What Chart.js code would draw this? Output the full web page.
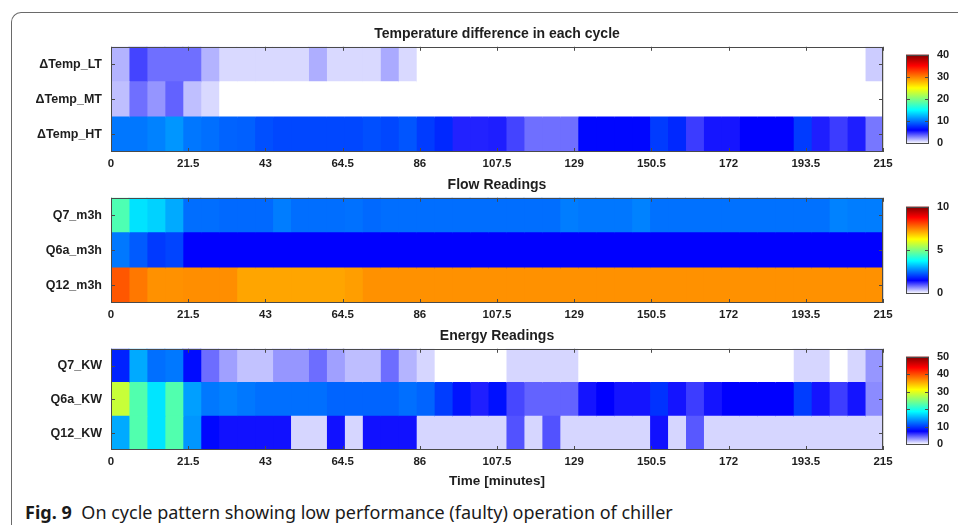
<!DOCTYPE html>
<html>
<head>
<meta charset="utf-8">
<script src="https://cdn.jsdelivr.net/npm/chart.js@4.4.0/dist/chart.umd.min.js"></script>
<style>
  html, body { margin: 0; padding: 0; background: #fff; }
  #page { position: relative; width: 958px; height: 525px; overflow: hidden; }
  .frame { position: absolute; left: 11px; top: 12px; width: 990px; height: 560px;
           border-top: 1.5px solid #6a6a6a; border-left: 1.5px solid #6a6a6a; border-top-left-radius: 10px; }
  .box { position: absolute; }
  .caption { position: absolute; left: 25px; top: 500px; font-family: "Noto Sans", sans-serif;
             font-size: 18px; line-height: 24px; color: #1a1a1a; white-space: nowrap; }
  .caption b { margin-right: 5px; }
</style>
</head>
<body>
<div id="page">
  <div class="frame"></div>
  <div class="box" style="left:0;top:26px;"><canvas id="hmTemp" width="958" height="148"></canvas></div>
  <div class="box" style="left:0;top:177px;"><canvas id="hmFlow" width="958" height="148"></canvas></div>
  <div class="box" style="left:0;top:328px;"><canvas id="hmEnergy" width="958" height="163"></canvas></div>
  <div class="box" style="left:906px;top:40px;"><canvas id="cbTemp" width="52" height="118"></canvas></div>
  <div class="box" style="left:906px;top:192px;"><canvas id="cbFlow" width="52" height="116"></canvas></div>
  <div class="box" style="left:906px;top:342px;"><canvas id="cbEnergy" width="52" height="117"></canvas></div>
  <div class="caption"><b>Fig. 9</b> On cycle pattern showing low performance (faulty) operation of chiller</div>
</div>

<script>
// ── Data ─────────────────────────────────────────────────────
// one cell every 5 minutes, 43 cells from 0 to 215
var BIN_MIN = 5;
var T_MAX = 215;
var xTicks = [0, 21.5, 43, 64.5, 86, 107.5, 129, 150.5, 172, 193.5, 215];

var tempLabels = ['\u0394Temp_LT', '\u0394Temp_MT', '\u0394Temp_HT'];
var tempLT = [1.8, 4.4, 3.4, 3.4, 3.4, 1.8, 0.9, 0.9, 0.9, 0.9, 0.9, 1.9, 0.9, 0.9, 0.9, 2.0, 0.9, 0, 0, 0,
              0, 0, 0, 0, 0, 0, 0, 0, 0, 0, 0, 0, 0, 0, 0, 0, 0, 0, 0, 0,
              0, 0, 1.2];
var tempMT = [1.5, 3.4, 2.5, 3.7, 1.5, 0.9, 0, 0, 0, 0, 0, 0, 0, 0, 0, 0, 0, 0, 0, 0,
              0, 0, 0, 0, 0, 0, 0, 0, 0, 0, 0, 0, 0, 0, 0, 0, 0, 0, 0, 0,
              0, 0, 0];
var tempHT = [10.2, 10.2, 10.6, 11.3, 10.2, 9.9, 9.5, 9.4, 8.8, 8.5, 8.5, 8.5, 8.5, 8.5, 8.8, 8.5, 9.0, 8.1, 7.4, 5.2,
              5.2, 5.3, 4.4, 3.4, 3.4, 3.4, 6.2, 6.2, 6.2, 6.2, 8.1, 7.4, 4.6, 5.5, 5.5, 6.0, 6.0, 6.0, 8.1, 5.3,
              4.6, 5.3, 3.2];

var flowLabels = ['Q7_m3h', 'Q6a_m3h', 'Q12_m3h'];
var flowQ7  = [4.5, 3.5, 3.35, 3.0, 2.47, 2.47, 2.43, 2.43, 2.43, 2.6, 2.47, 2.47, 2.47, 2.5, 2.43, 2.47, 2.47, 2.47, 2.47, 2.47,
               2.47, 2.47, 2.47, 2.47, 2.47, 2.6, 2.55, 2.55, 2.55, 2.65, 2.5, 2.5, 2.5, 2.5, 2.5, 2.5, 2.5, 2.5, 2.5, 2.5,
               2.65, 2.6, 2.6];
var flowQ6a = [2.56, 2.3, 2.0, 2.1, 1.5, 1.5, 1.5, 1.5, 1.5, 1.5, 1.5, 1.5, 1.5, 1.5, 1.5, 1.5, 1.5, 1.5, 1.5, 1.5,
               1.5, 1.5, 1.5, 1.5, 1.5, 1.5, 1.5, 1.5, 1.5, 1.5, 1.5, 1.5, 1.5, 1.5, 1.5, 1.5, 1.5, 1.5, 1.5, 1.5,
               1.5, 1.5, 1.5];
var flowQ12 = [7.9, 7.57, 7.33, 7.33, 7.36, 7.36, 7.36, 7.13, 7.13, 7.13, 7.13, 7.13, 7.13, 7.2, 7.33, 7.33, 7.33, 7.33, 7.33, 7.33,
               7.33, 7.33, 7.33, 7.33, 7.33, 7.33, 7.33, 7.33, 7.33, 7.33, 7.33, 7.33, 7.33, 7.33, 7.33, 7.33, 7.33, 7.33, 7.33, 7.33,
               7.33, 7.33, 7.33];

var energyLabels = ['Q7_KW', 'Q6a_KW', 'Q12_KW'];
var energyQ7  = [9, 15, 12.4, 12.8, 8, 4.3, 2.8, 1.8, 1.8, 3.1, 3.1, 4.3, 2.8, 1.9, 1.9, 4.3, 2.2, 1.2, 0, 0,
                 0, 0, 1.2, 1.2, 1.2, 1.2, 0, 0, 0, 0, 0, 0, 0, 0, 0, 0, 0, 0, 1.2, 1.2,
                 0, 1.2, 3.1];
var energyQ6a = [28.5, 22.7, 17.6, 22.7, 14.5, 12.8, 13.2, 12.8, 12.4, 12.4, 12.4, 12.4, 11.9, 11.9, 11.9, 11.9, 12.4, 11.9, 10.2, 8.4,
                 6.6, 8.2, 5.4, 4.6, 4.6, 4.6, 6.9, 7.5, 6.9, 6.9, 9.7, 6.9, 5.7, 6.9, 7.5, 7.5, 7.5, 7.5, 10.2, 6.9,
                 5.7, 6.9, 3.4];
var energyQ12 = [15, 22.7, 17.6, 22.7, 14.1, 7.8, 7, 7, 7, 7, 1.2, 1.2, 7, 1.2, 7, 7, 7, 1.2, 1.2, 1.2,
                 1.2, 1.2, 5.1, 1.2, 5.1, 1.2, 1.2, 1.2, 1.2, 1.2, 7, 1.2, 4.9, 1.2, 1.2, 1.2, 1.2, 1.2, 1.2, 1.2,
                 1.2, 1.2, 1.2];

// ── Style ────────────────────────────────────────────────────
var FONT = '"Liberation Sans", Arial, sans-serif';
var INK = '#1e1e1e';
var GRID = 'rgba(160,160,160,0.45)';
var BOX = '#4a4a4a';

// white -> blue -> jet
var CMAP = [
  [0.000, [255, 255, 255]],
  [0.150, [0, 0, 255]],
  [0.375, [0, 255, 255]],
  [0.625, [255, 255, 0]],
  [0.875, [255, 0, 0]],
  [1.000, [128, 0, 0]]
];

function cmap(v, vmax) {
  var t = Math.max(0, Math.min(1, v / vmax));
  for (var i = 1; i < CMAP.length; i++) {
    if (t <= CMAP[i][0]) {
      var a = CMAP[i - 1], b = CMAP[i];
      var f = (t - a[0]) / (b[0] - a[0]);
      var c = a[1].map(function (x, j) { return Math.round(x + (b[1][j] - x) * f); });
      return 'rgb(' + c.join(',') + ')';
    }
  }
  return 'rgb(128,0,0)';
}

// ── Plugins ──────────────────────────────────────────────────
// box round the plot area with short inward ticks (matlab look)
var axesBox = {
  id: 'axesBox',
  afterDraw: function (chart) {
    var a = chart.chartArea, ctx = chart.ctx, L = 4;
    ctx.save();
    ctx.strokeStyle = BOX;
    ctx.lineWidth = 1;
    ctx.strokeRect(Math.round(a.left) + 0.5, Math.round(a.top) + 0.5,
                   Math.round(a.right - a.left) - 1, Math.round(a.bottom - a.top) - 1);
    ctx.beginPath();
    var xs = chart.scales.x, ys = chart.scales.y;
    if (xs && xs.options.display !== false) {
      xs.ticks.forEach(function (tk, i) {
        var px = Math.round(xs.getPixelForTick(i)) + 0.5;
        ctx.moveTo(px, a.top); ctx.lineTo(px, a.top + L);
        ctx.moveTo(px, a.bottom); ctx.lineTo(px, a.bottom - L);
      });
    }
    if (ys) {
      ys.ticks.forEach(function (tk, i) {
        var py = Math.round(ys.getPixelForTick(i)) + 0.5;
        ctx.moveTo(a.left, py); ctx.lineTo(a.left + L, py);
        ctx.moveTo(a.right, py); ctx.lineTo(a.right - L, py);
      });
    }
    ctx.stroke();
    ctx.restore();
  }
};

// colour ramp for the colorbars
var colorRamp = {
  id: 'colorRamp',
  beforeDatasetsDraw: function (chart) {
    var a = chart.chartArea, ctx = chart.ctx;
    var g = ctx.createLinearGradient(0, a.bottom, 0, a.top);
    CMAP.forEach(function (s) { g.addColorStop(s[0], 'rgb(' + s[1].join(',') + ')'); });
    ctx.save();
    ctx.fillStyle = g;
    ctx.fillRect(a.left, a.top, a.right - a.left, a.bottom - a.top);
    ctx.restore();
  }
};

// ── Heatmap ──────────────────────────────────────────────────
function mkHeatmap(id, labels, rows, vmax, title, axisTitle) {
  var nBins = rows[0].length;
  var datasets = [];
  for (var k = 0; k < nBins; k++) {
    var t0 = k * BIN_MIN;
    datasets.push({
      data: rows.map(function () { return [t0, t0 + BIN_MIN]; }),
      backgroundColor: rows.map(function (r) { return cmap(r[k], vmax); }),
      borderWidth: 0,
      inflateAmount: 0.5,
      barPercentage: 1,
      categoryPercentage: 1,
      grouped: false
    });
  }
  var xh = axisTitle ? 41 : 22;
  return new Chart(document.getElementById(id), {
    type: 'bar',
    data: { labels: labels, datasets: datasets },
    options: {
      indexAxis: 'y',
      responsive: false,
      animation: false,
      events: [],
      layout: { autoPadding: false, padding: { left: 0, right: 75, top: 0, bottom: 0 } },
      plugins: {
        legend: { display: false },
        tooltip: { enabled: false },
        title: {
          display: true, text: title, fullSize: false, color: INK,
          font: { family: FONT, size: 14, weight: 'bold' },
          padding: { top: 0, bottom: 4 }
        }
      },
      scales: {
        x: {
          type: 'linear', min: 0, max: T_MAX, z: 1,
          grid: { color: GRID, drawTicks: false },
          border: { display: false },
          afterBuildTicks: function (s) { s.ticks = xTicks.map(function (v) { return { value: v }; }); },
          afterFit: function (s) { s.height = xh; },
          ticks: {
            padding: 5, color: INK, maxRotation: 0, autoSkip: false,
            font: { family: FONT, size: 11.5, weight: 'bold' },
            callback: function (v) { return String(v); }
          },
          title: {
            display: !!axisTitle, text: axisTitle || '', color: INK,
            font: { family: FONT, size: 13.5, weight: 'bold' },
            padding: { top: 0, bottom: 2 }
          }
        },
        y: {
          type: 'category', z: 1, offset: true,
          grid: { color: GRID, drawTicks: false, offset: false },
          border: { display: false },
          afterFit: function (s) { s.width = 111; },
          ticks: { padding: 9, color: INK, font: { family: FONT, size: 12.5, weight: 'bold' } }
        }
      }
    },
    plugins: [axesBox]
  });
}

// ── Colorbar ─────────────────────────────────────────────────
function mkColorbar(id, vmax, step) {
  return new Chart(document.getElementById(id), {
    type: 'scatter',
    data: { datasets: [] },
    options: {
      responsive: false,
      animation: false,
      events: [],
      layout: { autoPadding: false, padding: { left: 0, right: 0, top: 8, bottom: 8 } },
      plugins: { legend: { display: false }, tooltip: { enabled: false } },
      scales: {
        x: { display: false, min: 0, max: 1 },
        y: {
          position: 'right', min: 0, max: vmax,
          grid: { display: false, drawTicks: false },
          border: { display: false },
          afterFit: function (s) { s.width = 29; },
          ticks: { stepSize: step, padding: 8, color: INK, font: { family: FONT, size: 11, weight: 'bold' } }
        }
      }
    },
    plugins: [colorRamp, axesBox]
  });
}

mkHeatmap('hmTemp', tempLabels, [tempLT, tempMT, tempHT], 40, 'Temperature difference in each cycle');
mkHeatmap('hmFlow', flowLabels, [flowQ7, flowQ6a, flowQ12], 10, 'Flow Readings');
mkHeatmap('hmEnergy', energyLabels, [energyQ7, energyQ6a, energyQ12], 50, 'Energy Readings', 'Time [minutes]');

mkColorbar('cbTemp', 40, 10);
mkColorbar('cbFlow', 10, 5);
mkColorbar('cbEnergy', 50, 10);
</script>
</body>
</html>
